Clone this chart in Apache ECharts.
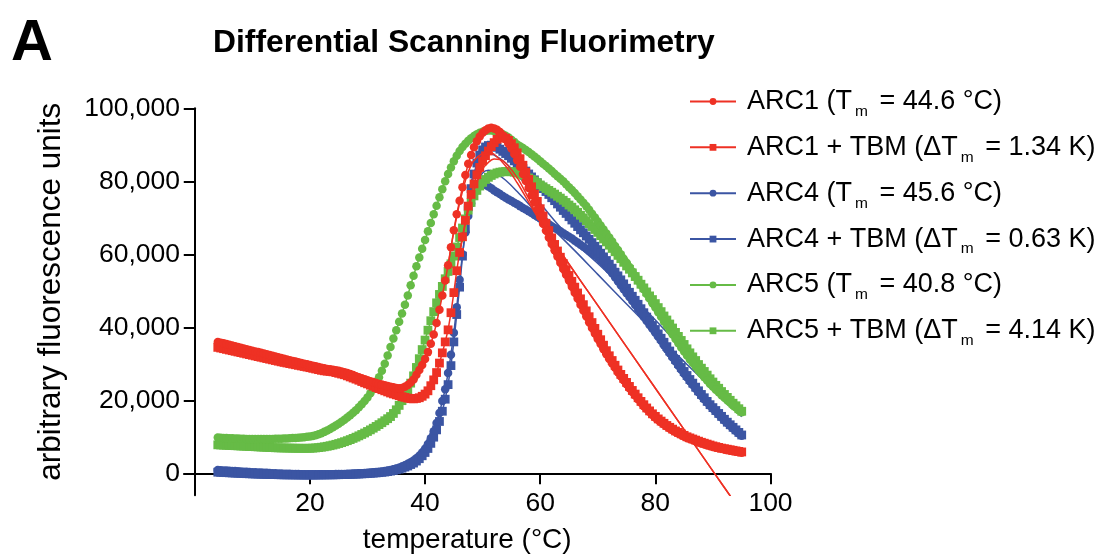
<!DOCTYPE html>
<html>
<head>
<meta charset="utf-8">
<script src="https://cdn.jsdelivr.net/npm/echarts@6.0.0/dist/echarts.min.js"></script>
<style>
html,body{margin:0;padding:0;background:#fff;}
#chart{width:1107px;height:556px;}
</style>
</head>
<body>
<div id="chart"></div>
<script>
// temperature grid (°C)
const temps = [
 4,4.5,5,5.5,6,6.5,7,7.5,8,8.5,
 9,9.5,10,10.5,11,11.5,12,12.5,13,13.5,
 14,14.5,15,15.5,16,16.5,17,17.5,18,18.5,
 19,19.5,20,20.5,21,21.5,22,22.5,23,23.5,
 24,24.5,25,25.5,26,26.5,27,27.5,28,28.5,
 29,29.5,30,30.5,31,31.5,32,32.5,33,33.5,
 34,34.5,35,35.5,36,36.5,37,37.5,38,38.5,
 39,39.5,40,40.5,41,41.5,42,42.5,43,43.5,
 44,44.5,45,45.5,46,46.5,47,47.5,48,48.5,
 49,49.5,50,50.5,51,51.5,52,52.5,53,53.5,
 54,54.5,55,55.5,56,56.5,57,57.5,58,58.5,
 59,59.5,60,60.5,61,61.5,62,62.5,63,63.5,
 64,64.5,65,65.5,66,66.5,67,67.5,68,68.5,
 69,69.5,70,70.5,71,71.5,72,72.5,73,73.5,
 74,74.5,75,75.5,76,76.5,77,77.5,78,78.5,
 79,79.5,80,80.5,81,81.5,82,82.5,83,83.5,
 84,84.5,85,85.5,86,86.5,87,87.5,88,88.5,
 89,89.5,90,90.5,91,91.5,92,92.5,93,93.5,
 94,94.5,95];

const arc1 = [
36000,35800,35600,35400,35200,35000,34800,34600,34400,34200,
34000,33800,33600,33400,33200,33000,32800,32600,32400,32200,
32000,31800,31600,31400,31200,31000,30800,30600,30400,30200,
30000,29850,29700,29500,29300,29100,28900,28750,28600,28500,
28400,28250,28100,27900,27700,27450,27200,26900,26600,26300,
26050,25800,25500,25250,25000,24750,24500,24300,24100,23900,
23700,23550,23400,23300,23400,23700,24200,24900,25700,27000,
28300,29700,31300,33200,35500,38000,41200,44800,48700,52800,
57000,61900,66600,71000,74700,78400,81700,84800,87200,89300,
91000,92300,93300,94000,94500,94700,94500,94100,93500,92600,
91500,90300,89000,87500,85800,84000,82000,80100,78200,76200,
74200,72200,70300,68400,66500,64600,62800,61100,59400,57700,
56000,54400,52800,51100,49500,47900,46200,44600,43000,41400,
39800,38300,36800,35400,34000,32600,31300,30100,28900,27700,
26600,25500,24400,23300,22300,21300,20300,19300,18400,17600,
16800,16000,15200,14600,14000,13400,12800,12300,11800,11300,
10900,10500,10100,9700,9400,9100,8800,8500,8200,7950,
7700,7450,7200,7000,6850,6700,6500,6350,6200,6050,
5900,5750,5600];

const arc1Tbm = [
34500,34320,34140,33960,33780,33600,33420,33240,33060,32880,
32700,32520,32340,32160,31980,31800,31620,31440,31260,31080,
30900,30720,30540,30380,30220,30060,29900,29740,29580,29420,
29260,29100,28940,28760,28580,28400,28220,28080,27980,27900,
27800,27600,27400,27200,27000,26700,26400,26100,25800,25500,
25150,24800,24500,24150,23850,23500,23200,22900,22600,22300,
22000,21750,21500,21250,21000,20800,20600,20450,20400,20500,
20700,21100,21700,22600,24000,25600,27600,30200,33000,36000,
39300,44000,49500,55500,60500,64800,69300,73200,76400,79300,
81800,83800,85600,87000,88300,89500,90600,91500,92000,92100,
91800,91200,90300,89200,87800,86200,84400,82500,80500,78500,
76500,74500,72500,70500,68500,66500,64500,62700,60900,59200,
57500,55800,54200,52600,51000,49400,47800,46200,44500,42900,
41300,39700,38100,36600,35100,33600,32200,30900,29600,28300,
27100,26000,24900,23800,22700,21700,20700,19700,18800,17900,
17100,16300,15600,14900,14300,13700,13100,12600,12100,11600,
11200,10800,10400,10000,9700,9400,9100,8800,8500,8250,
8000,7750,7500,7300,7100,6900,6750,6600,6450,6300,
6150,6000,5850];

const arc4 = [
900,850,800,750,700,650,600,550,500,450,
400,360,320,280,240,200,160,120,80,40,
0,-30,-60,-90,-120,-150,-170,-190,-210,-230,
-250,-260,-270,-280,-280,-280,-280,-270,-260,-250,
-240,-220,-200,-180,-160,-130,-100,-70,-40,0,
40,90,140,200,260,340,420,520,620,750,
900,1100,1300,1550,1850,2200,2600,3000,3500,4100,
4800,5700,6700,8000,9600,11500,13800,16500,19800,23000,
27500,32500,38500,45500,53000,60000,66000,70500,74000,76500,
78000,78900,79200,79000,78600,78100,77500,77000,76500,76000,
75500,75000,74600,74100,73700,73200,72700,72300,71800,71300,
70800,70300,69800,69300,68800,68200,67700,67200,66800,66300,
65800,65300,64800,64300,63700,63200,62600,62100,61500,60900,
60400,59800,59200,58400,57600,56700,55800,54800,53700,52600,
51500,50400,49300,48300,47200,46100,45000,43900,42800,41700,
40600,39600,38500,37400,36300,35100,34000,32900,31700,30600,
29500,28400,27300,26300,25200,24200,23200,22200,21200,20300,
19400,18500,17700,16900,16100,15300,14500,13800,13000,12300,
11600,10900,10300];

const arc4Tbm = [
300,260,220,180,140,100,60,20,-20,-60,
-100,-130,-160,-190,-220,-250,-280,-300,-320,-340,
-360,-380,-400,-410,-420,-430,-440,-450,-460,-470,
-480,-480,-480,-480,-470,-460,-450,-440,-430,-420,
-410,-400,-380,-360,-340,-320,-290,-260,-230,-190,
-150,-110,-60,-10,50,110,180,260,350,460,
600,760,950,1150,1400,1700,2000,2400,2800,3350,
4000,4800,5700,6800,8200,9900,11900,14200,17000,20300,
24300,29500,36000,43500,51000,59500,67000,73000,78000,82000,
85000,87200,88600,89400,89800,89900,89700,89300,88800,88200,
87600,87000,86300,85600,84900,84200,83500,82800,82000,81200,
80400,79600,78800,78000,77200,76400,75500,74700,73800,72900,
72000,71200,70300,69400,68500,67600,66700,65900,65000,64100,
63200,62200,61300,60300,59300,58300,57300,56200,55100,54100,
53000,51900,50700,49600,48500,47400,46300,45100,44000,42800,
41700,40500,39400,38200,37000,35900,34700,33500,32400,31200,
30100,29000,27900,26800,25700,24700,23600,22600,21600,20700,
19700,18800,18000,17200,16400,15600,14800,14000,13300,12600,
11900,11200,10500];

const arc5 = [
9800,9750,9700,9650,9600,9570,9540,9510,9480,9450,
9430,9410,9400,9390,9380,9380,9380,9390,9400,9420,
9440,9460,9490,9520,9560,9600,9650,9700,9760,9830,
9900,9990,10100,10250,10450,10700,11000,11350,11750,12150,
12600,13100,13600,14100,14700,15300,15900,16600,17300,18100,
18900,19800,20800,21900,23100,24600,26300,28100,30000,32300,
34600,36900,39200,41500,43800,46200,48700,51500,54100,56700,
59100,61500,63900,66300,68600,71000,73300,75600,77800,80000,
82000,83800,85500,87000,88300,89400,90300,91100,91800,92400,
92900,93300,93600,93800,93900,93900,93800,93600,93300,92900,
92500,92000,91400,90800,90100,89600,89100,88600,88000,87400,
86800,86200,85500,84800,84200,83500,82800,82100,81400,80700,
80000,79200,78400,77600,76800,75900,75000,74100,73200,72200,
71100,70100,69000,67900,66800,65700,64600,63500,62300,61200,
60000,58800,57700,56500,55300,54100,52800,51600,50400,49100,
47900,46600,45400,44100,42900,41600,40400,39200,38000,36800,
35600,34500,33400,32300,31200,30200,29200,28200,27200,26300,
25400,24500,23700,22900,22200,21400,20700,20000,19300,18600,
18000,17300,16700];

const arc5Tbm = [
7800,7760,7720,7680,7640,7600,7560,7520,7480,7440,
7400,7360,7320,7280,7240,7200,7160,7120,7080,7040,
7000,6980,6960,6940,6920,6900,6880,6870,6860,6850,
6850,6850,6860,6900,6960,7040,7140,7260,7400,7560,
7740,7940,8160,8400,8660,8940,9240,9560,9900,10260,
10640,11040,11460,11900,12360,12840,13340,13860,14400,14960,
15550,16400,17400,18600,19900,21300,22900,24700,26700,29000,
31400,33900,36500,39200,41800,44300,46700,49000,51200,53300,
55300,57400,59500,62000,64600,67200,69700,72100,74200,76000,
77500,78700,79700,80500,81100,81600,82000,82300,82500,82600,
82700,82700,82600,82500,82300,82000,81700,81300,80900,80500,
80100,79600,79000,78500,78000,77500,77000,76500,75900,75400,
74800,74200,73500,72900,72200,71500,70700,70000,69200,68400,
67600,66800,66000,65100,64200,63400,62500,61600,60700,59700,
58800,57800,56800,55900,54900,53900,52900,51800,50800,49700,
48600,47600,46500,45400,44300,43100,42000,40900,39800,38600,
37500,36400,35300,34100,33000,31900,30900,29800,28800,27900,
26900,25900,25000,24100,23300,22400,21600,20800,20000,19200,
18500,17700,17000];

// fitted curves (thin lines)
const fitArc1T = [44, 46, 48, 50, 51, 52, 54, 56, 58, 60, 64, 70, 80, 90, 95];
const fitArc1V = [57000, 74000, 84500, 87700, 88000, 87400, 84200, 79600, 74300, 69000, 59600, 46000, 23300, 600, -10700];
const fitArc1TbmT = [46, 48, 50, 51, 52, 53, 54, 56, 58, 60, 64, 70, 80, 90, 95];
const fitArc1TbmV = [60000, 75000, 83300, 85200, 86100, 86000, 85000, 81000, 75300, 69000, 59600, 46000, 23300, 600, -10700];
const fitArc4T = [47, 48, 49, 50, 51, 52, 54, 56, 58, 60, 63, 66, 70, 75, 80, 85, 90, 95];
const fitArc4V = [66000, 74500, 79800, 82300, 83000, 82600, 80300, 77200, 73800, 70300, 65700, 61000, 54500, 46400, 38400, 30600, 23000, 15800];
const fitArc4TbmT = [48, 50, 51, 52, 54, 56, 58, 60, 63, 66, 70, 75, 80, 85, 90, 95];
const fitArc4TbmV = [80000, 86800, 87600, 87200, 85000, 81800, 78000, 74000, 68300, 63200, 57500, 50000, 42000, 33500, 24500, 15500];

const names = [
  'ARC1 (Tm = 44.6 °C)',
  'ARC1 + TBM (ΔTm = 1.34 K)',
  'ARC4 (Tm = 45.6 °C)',
  'ARC4 + TBM (ΔTm = 0.63 K)',
  'ARC5 (Tm = 40.8 °C)',
  'ARC5 + TBM (ΔTm = 4.14 K)'
];
const yTicks = [0, 20000, 40000, 60000, 80000, 100000];
const xTicks = [20, 40, 60, 80, 100];

const RED = '#EE3124', BLUE = '#3B55A3', GREEN = '#66BB46';
const FONT = "'Liberation Sans', Arial, Helvetica, sans-serif";

const arrs = {arc1, arc1Tbm, arc4, arc4Tbm, arc5, arc5Tbm};
for (const k in arrs) {
  if (arrs[k].length !== temps.length) throw new Error('length mismatch ' + k + ' ' + arrs[k].length);
}
function pts(xs, ys) { return xs.map((x, i) => [x, ys[i]]); }

function dataSeries(name, vals, color, symbol, z) {
  return {
    name: name, type: 'line', data: pts(temps, vals),
    symbol: symbol, symbolSize: symbol === 'rect' ? 8.8 : 8.5,
    showSymbol: true,
    lineStyle: {color: color, width: 1.5},
    itemStyle: {color: color, borderWidth: 0},
    z: z, animation: false, silent: true
  };
}
function fitSeries(xs, ys, color, z) {
  return {
    type: 'line', data: pts(xs, ys), symbol: 'none', smooth: 0.35,
    lineStyle: {color: color, width: 1.5}, z: z, animation: false, silent: true
  };
}

const chart = echarts.init(document.getElementById('chart'), null, {renderer: 'canvas'});
chart.setOption({
  animation: false,
  backgroundColor: '#fff',
  title: [
    {text: 'A', left: 11, top: 15, padding: 0,
     textStyle: {fontFamily: FONT, fontSize: 58, fontWeight: 'bold', color: '#000'}},
    {text: 'Differential Scanning Fluorimetry', left: 213, top: 27, padding: 0,
     textStyle: {fontFamily: FONT, fontSize: 31.8, fontWeight: 'bold', color: '#000'}}
  ],
  grid: {left: 184, right: 336.5, top: 108.3, bottom: 60.8, containLabel: false, outerBoundsMode: 'none'},
  legend: {
    data: names, orient: 'vertical', left: 689, top: 83.5, padding: 0,
    itemWidth: 46, itemHeight: 8.5, itemGap: 9.86,
    selectedMode: false,
    lineStyle: {width: 2},
    formatter: n => n.replace('Tm', 'T{sub|m}'),
    textStyle: {
      fontFamily: FONT, fontSize: 27, color: '#000', lineHeight: 36, padding: [0, 0, 0, 6],
      rich: {sub: {fontFamily: FONT, fontSize: 15.5, color: '#000', verticalAlign: 'bottom', lineHeight: 1, padding: [0, 4, 0, 3]}}
    }
  },
  xAxis: {
    type: 'value', min: -1.87, max: 100,
    name: 'temperature (°C)', nameLocation: 'middle', nameGap: 31,
    nameTextStyle: {fontFamily: FONT, fontSize: 28, color: '#000', padding: [0, 20, 0, 0]},
    axisLine: {show: true, onZero: true, lineStyle: {color: '#000', width: 2}},
    axisTick: {show: true, length: 11, lineStyle: {color: '#000', width: 2}, customValues: xTicks},
    axisLabel: {fontFamily: FONT, fontSize: 26.5, color: '#000', margin: -4.6, customValues: xTicks},
    splitLine: {show: false}
  },
  yAxis: {
    type: 'value', min: -6000, max: 100000,
    name: 'arbitrary fluorescence units', nameLocation: 'middle', nameGap: 116.5,
    nameTextStyle: {fontFamily: FONT, fontSize: 31.5, color: '#000', padding: [0, 0, 0, 20]},
    axisLine: {show: true, onZero: true, lineStyle: {color: '#000', width: 2}},
    axisTick: {show: true, length: 11, lineStyle: {color: '#000', width: 2}, customValues: yTicks},
    axisLabel: {fontFamily: FONT, fontSize: 26.5, color: '#000', margin: 4, customValues: yTicks,
      formatter: v => v.toLocaleString('en-US')},
    splitLine: {show: false}
  },
  series: [
    dataSeries(names[0], arc1, RED, 'circle', 8),
    dataSeries(names[1], arc1Tbm, RED, 'rect', 7),
    dataSeries(names[2], arc4, BLUE, 'circle', 2),
    dataSeries(names[3], arc4Tbm, BLUE, 'rect', 3),
    dataSeries(names[4], arc5, GREEN, 'circle', 6),
    dataSeries(names[5], arc5Tbm, GREEN, 'rect', 5),
    fitSeries(fitArc4T, fitArc4V, BLUE, 4),
    fitSeries(fitArc4TbmT, fitArc4TbmV, BLUE, 4),
    fitSeries(fitArc1T, fitArc1V, RED, 9),
    fitSeries(fitArc1TbmT, fitArc1TbmV, RED, 9)
  ]
});
</script>
</body>
</html>
